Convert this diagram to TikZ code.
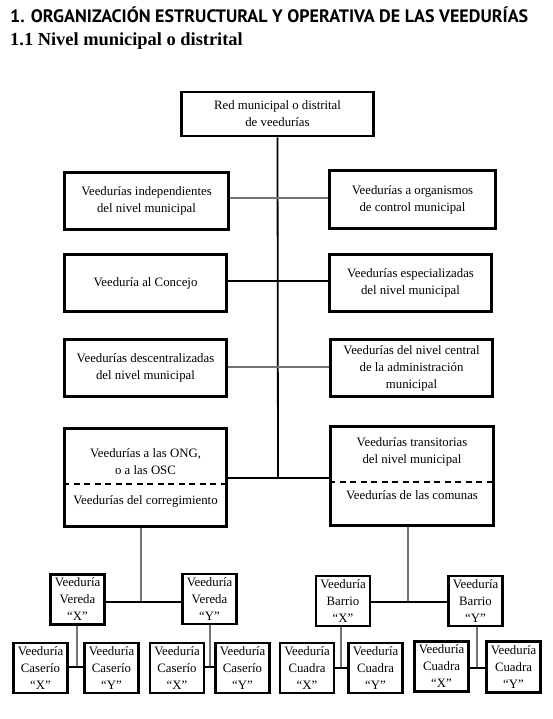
\documentclass[tikz,border=0pt]{standalone}
\usepackage{fontspec}
\setmainfont{Liberation Serif}
\newfontfamily\titlefont{PT Sans}
\usetikzlibrary{backgrounds}
\begin{document}
\begin{tikzpicture}[x=1pt,y=-1pt,
  box/.style={draw, line width=2.6pt, inner sep=0pt, align=center, font=\fontsize{12.8}{17}\selectfont},
  sbox/.style={box, minimum width=54pt, minimum height=50pt},
  txt/.style={inner sep=0pt, align=center, font=\fontsize{12.8}{17}\selectfont},
  gline/.style={draw=black!55, line width=1.8pt},
  bline/.style={draw=black, line width=1.8pt},
  dline/.style={draw=black, line width=1.1pt, dash pattern=on 6pt off 4.5pt}]
\useasboundingbox (0,0) rectangle (553,719);

\node[anchor=base west, inner sep=0pt, font=\titlefont\bfseries\fontsize{18}{20}\selectfont] (title) at (10,23) {1. ORGANIZACIÓN ESTRUCTURAL Y OPERATIVA DE LAS VEEDURÍAS};
\node[anchor=base west, inner sep=0pt, font=\bfseries\fontsize{18.4}{20}\selectfont] (sub) at (10,46) {1.1 Nivel municipal o distrital};

\node[box, minimum width=192pt, minimum height=44pt] (red) at (277.5,114) {Red municipal o distrital\\de veedurías};
\node[box, minimum width=164pt, minimum height=57pt] (indep) at (146.5,201) {Veedurías independientes\\del nivel municipal};
\node[box, minimum width=166pt, minimum height=58pt, line width=3pt] (org) at (412.5,199.5) {Veedurías a organismos\\de control municipal};
\node[box, minimum width=162pt, minimum height=57pt] (conc) at (145.5,283) {Veeduría al Concejo};
\node[box, minimum width=162pt, minimum height=57pt] (esp) at (410.5,283) {Veedurías especializadas\\del nivel municipal};
\node[box, minimum width=162pt, minimum height=57pt, line width=3pt] (desc) at (145.5,368) {Veedurías descentralizadas\\del nivel municipal};
\node[box, minimum width=162pt, minimum height=57pt, line width=3pt] (cent) at (411.5,368) {Veedurías del nivel central\\de la administración\\municipal};

\node[box, minimum width=162pt, minimum height=98pt] (ong) at (145.5,477.5) {};
\node[txt] (ongA) at (145.5,461.5) {Veedurías a las ONG,\\o a las OSC};
\node[txt] (ongB) at (145.5,501) {Veedurías del corregimiento};
\node[box, minimum width=163pt, minimum height=99pt, line width=3pt] (trans) at (412,476) {};
\node[txt] (transA) at (412,451.5) {Veedurías transitorias\\del nivel municipal};
\node[txt] (transB) at (412,495) {Veedurías de las comunas};

\node[sbox] (vx) at (77.5,599.5) {Veeduría\\Vereda\\“X”};
\node[sbox] (vy) at (209.5,599) {Veeduría\\Vereda\\“Y”};
\node[sbox] (bx) at (343,601) {Veeduría\\Barrio\\“X”};
\node[sbox] (by) at (475.5,601) {Veeduría\\Barrio\\“Y”};
\node[sbox] (cx1) at (40.5,668) {Veeduría\\Caserío\\“X”};
\node[sbox] (cy1) at (111.5,668) {Veeduría\\Caserío\\“Y”};
\node[sbox] (cx2) at (177,668) {Veeduría\\Caserío\\“X”};
\node[sbox] (cy2) at (242.5,668) {Veeduría\\Caserío\\“Y”};
\node[sbox] (qx1) at (307,668) {Veeduría\\Cuadra\\“X”};
\node[sbox] (qy1) at (375.5,668) {Veeduría\\Cuadra\\“Y”};
\node[sbox, line width=3pt] (qx2) at (441.5,666.5) {Veeduría\\Cuadra\\“X”};
\node[sbox, line width=3pt, minimum height=51pt] (qy2) at (513.5,667) {Veeduría\\Cuadra\\“Y”};

\coordinate (d1) at (0,484);
\coordinate (d2) at (0,482);
\coordinate (r1) at (278,198);
\coordinate (r2) at (278,281);
\coordinate (r3) at (278,367);
\coordinate (r4) at (278,478);
\coordinate (j1) at (141,602);
\coordinate (j2) at (408,602);
\coordinate (k1) at (77,667);
\coordinate (k2) at (210,667);
\coordinate (k3) at (341,668);
\coordinate (k4) at (477,668);

\begin{scope}[on background layer]
\fill[white] (0,0) rectangle (553,719);
\draw[dline] (ong.west |- d1) -- (ong.east |- d1);
\draw[dline] (trans.west |- d2) -- (trans.east |- d2);
\draw[bline] (red.south) -- (r4);
\draw[gline] (indep.east |- r1) -- (org.west |- r1);
\draw[bline] (conc.east |- r2) -- (esp.west |- r2);
\draw[gline] (desc.east |- r3) -- (cent.west |- r3);
\draw[bline] (ong.east |- r4) -- (trans.west |- r4);
\draw[gline] (ong.south -| j1) -- (j1);
\draw[bline] (vx.east |- j1) -- (vy.west |- j1);
\draw[gline] (trans.south -| j2) -- (j2);
\draw[bline] (bx.east |- j2) -- (by.west |- j2);
\draw[gline] (vx.south -| k1) -- (k1);
\draw[bline] (cx1.east |- k1) -- (cy1.west |- k1);
\draw[gline] (vy.south -| k2) -- (k2);
\draw[bline] (cx2.east |- k2) -- (cy2.west |- k2);
\draw[gline] (bx.south -| k3) -- (k3);
\draw[bline] (qx1.east |- k3) -- (qy1.west |- k3);
\draw[gline] (by.south -| k4) -- (k4);
\draw[bline] (qx2.east |- k4) -- (qy2.west |- k4);
\end{scope}
\end{tikzpicture}
\end{document}
